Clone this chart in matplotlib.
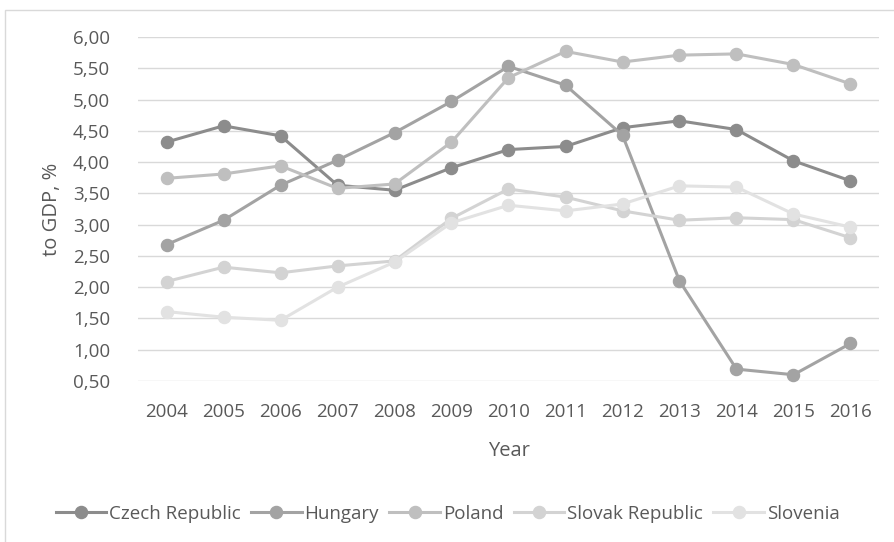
import matplotlib
matplotlib.use("Agg")
import matplotlib.pyplot as plt
from matplotlib.patches import Rectangle

years = ["2004", "2005", "2006", "2007", "2008", "2009", "2010", "2011", "2012", "2013", "2014", "2015", "2016"]
czech = [4.32, 4.58, 4.42, 3.63, 3.55, 3.91, 4.20, 4.25, 4.55, 4.66, 4.52, 4.02, 3.70]
hungary = [2.68, 3.07, 3.63, 4.03, 4.47, 4.97, 5.53, 5.23, 4.43, 2.10, 0.69, 0.60, 1.10]
poland = [3.74, 3.81, 3.94, 3.58, 3.65, 4.32, 5.35, 5.77, 5.60, 5.71, 5.73, 5.56, 5.25]
slovak = [2.09, 2.32, 2.23, 2.34, 2.42, 3.10, 3.57, 3.44, 3.22, 3.07, 3.11, 3.08, 2.79]
slovenia = [1.61, 1.52, 1.47, 2.00, 2.40, 3.03, 3.31, 3.22, 3.33, 3.62, 3.60, 3.17, 2.96]

series = [("Czech Republic", czech, "#8c8c8c"),
          ("Hungary", hungary, "#a3a3a3"),
          ("Poland", poland, "#bfbfbf"),
          ("Slovak Republic", slovak, "#d3d3d3"),
          ("Slovenia", slovenia, "#e2e2e2")]

yticks = [0.5, 1.0, 1.5, 2.0, 2.5, 3.0, 3.5, 4.0, 4.5, 5.0, 5.5, 6.0]

plt.rcParams['font.family'] = ['Open Sans', 'DejaVu Sans']
fig = plt.figure(figsize=(8.95, 5.42), dpi=100)
fig.patches.append(Rectangle((5/895, -0.01), 1.0, 1 - 10/542 + 0.01, transform=fig.transFigure,
                             fill=False, edgecolor="#d9d9d9", linewidth=1.0))
ax = fig.add_axes([138/895, 1 - 381/542, (879-138)/895, (381-37)/542])

x = list(range(len(years)))
for name, vals, col in series:
    ax.plot(x, vals, color=col, linewidth=2.2, marker='o', markersize=8.7,
            label=name, clip_on=False, zorder=3)

ax.set_xlim(-0.5, len(years) - 0.5)
ax.set_ylim(0.5, 6.0)
ax.set_yticks(yticks)
ax.set_yticklabels([f"{v:.2f}".replace('.', ',') for v in yticks])
ax.set_xticks(x)
ax.set_xticklabels(years)
ax.grid(axis='y', color="#d9d9d9", linewidth=1.0)
ax.set_axisbelow(True)
for s in ax.spines.values():
    s.set_visible(False)
ax.tick_params(axis='both', length=0, labelsize=13.5, labelcolor="#595959")
ax.tick_params(axis='y', pad=20)
ax.tick_params(axis='x', pad=16)
ax.set_xlabel("Year", fontsize=14.5, color="#595959", labelpad=14)
ax.set_ylabel("to GDP, %", fontsize=14.5, color="#595959", labelpad=8)

leg = fig.legend(loc='center', bbox_to_anchor=(0.5, 1 - 514/542), ncol=5, frameon=False,
                 fontsize=13.5, handlelength=2.7, columnspacing=0.55, handletextpad=0.15,
                 labelcolor="#595959")

fig.savefig("out.png", dpi=100)
